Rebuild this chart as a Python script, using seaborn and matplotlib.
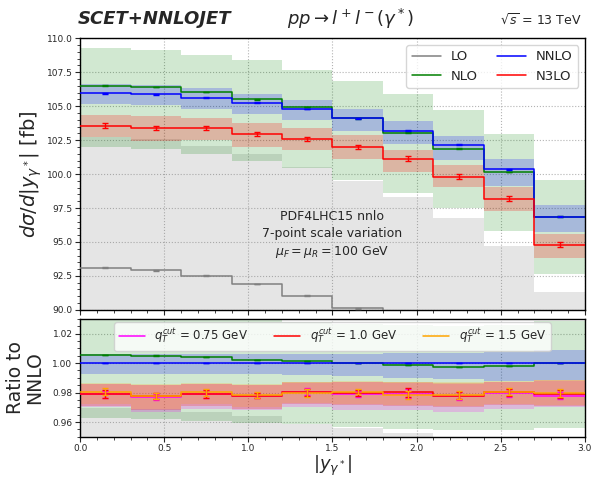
import numpy as np
import pandas as pd
import matplotlib
matplotlib.use('Agg')
import matplotlib.pyplot as plt
from matplotlib.ticker import MultipleLocator, FormatStrFormatter
import seaborn as sns

# bins in |y_gamma*|
bin_edges = [0.0, 0.3, 0.6, 0.9, 1.2, 1.5, 1.8, 2.1, 2.4, 2.7, 3.0]

# cross sections [fb], central values and scale-variation envelopes
lo_central = [93.1, 92.9, 92.5, 91.9, 91.05, 90.1, 89.1, 87.6, 85.8, 82.7]
lo_hi = [102.7, 102.6, 102.1, 101.5, 100.5, 99.5, 98.3, 96.8, 94.7, 91.3]
lo_lo = [84.7, 84.5, 84.2, 83.6, 82.9, 82.0, 81.1, 79.7, 78.1, 75.3]

nlo_central = [106.51, 106.41, 106.05, 105.5, 104.94, 104.12, 103.04, 101.87, 100.15, 96.87]
nlo_hi = [109.27, 109.15, 108.78, 108.37, 107.7, 106.84, 105.87, 104.7, 102.95, 99.6]
nlo_lo = [101.98, 101.88, 101.5, 101.0, 100.45, 99.6, 98.6, 97.49, 95.79, 92.62]

nnlo_central = [105.95, 105.87, 105.63, 105.25, 104.80, 104.10, 103.20, 102.15, 100.35, 96.85]
nnlo_hi = [106.63, 106.55, 106.31, 105.92, 105.47, 104.77, 103.88, 102.84, 101.11, 97.73]
nnlo_lo = [105.14, 105.07, 104.83, 104.45, 103.98, 103.19, 102.19, 101.04, 99.15, 95.71]

n3lo_central = [103.56, 103.41, 103.37, 102.93, 102.59, 101.98, 101.13, 99.82, 98.19, 94.81]
n3lo_hi = [104.35, 104.25, 104.15, 103.75, 103.4, 102.85, 101.75, 100.65, 99.05, 95.6]
n3lo_lo = [102.75, 102.45, 102.5, 102.0, 101.8, 101.1, 100.15, 99.05, 97.3, 93.85]
n3lo_err = [0.17, 0.15, 0.15, 0.15, 0.15, 0.15, 0.17, 0.17, 0.17, 0.17]
small_err = [0.03, 0.03, 0.03, 0.03, 0.03, 0.03, 0.03, 0.03, 0.03, 0.03]

# N3LO / NNLO for three q_T^cut values
qt_labels = [r'$q_T^{cut}$ = 0.75 GeV', r'$q_T^{cut}$ = 1.0 GeV', r'$q_T^{cut}$ = 1.5 GeV']
qt075_ratio = [0.9787, 0.9773, 0.9791, 0.9780, 0.9807, 0.9791, 0.9791, 0.9776, 0.9798, 0.9780]
qt075_hi = [0.9855, 0.9848, 0.9856, 0.9850, 0.9868, 0.9872, 0.9866, 0.9860, 0.9872, 0.9880]
qt075_lo = [0.9700, 0.9670, 0.9690, 0.9680, 0.9700, 0.9680, 0.9680, 0.9670, 0.9690, 0.9700]
qt10_ratio = [0.9791, 0.9776, 0.9791, 0.9780, 0.9802, 0.9798, 0.9802, 0.9780, 0.9802, 0.9791]
qt10_hi = [0.9858, 0.9851, 0.9858, 0.9851, 0.9869, 0.9875, 0.9869, 0.9862, 0.9875, 0.9884]
qt10_lo = [0.9712, 0.9685, 0.9710, 0.9690, 0.9720, 0.9715, 0.9710, 0.9700, 0.9715, 0.9710]
qt15_ratio = [0.9807, 0.9778, 0.9802, 0.9784, 0.9796, 0.9807, 0.9784, 0.9784, 0.9807, 0.9796]
qt15_hi = [0.9865, 0.9860, 0.9865, 0.9860, 0.9870, 0.9880, 0.9875, 0.9870, 0.9880, 0.9885]
qt15_lo = [0.9720, 0.9690, 0.9720, 0.9700, 0.9730, 0.9720, 0.9715, 0.9710, 0.9720, 0.9715]
qt_err = [0.0025, 0.0020, 0.0025, 0.0020, 0.0025, 0.0020, 0.0030, 0.0025, 0.0025, 0.0025]

edges = np.array(bin_edges)
centers = (edges[:-1] + edges[1:]) / 2


def steps(vals):
    vals = np.asarray(vals, dtype=float)
    return np.append(vals, vals[-1])


def step_line(axis, vals, color, label='_nolegend_', lw=1.1):
    df = pd.DataFrame({'x': edges, 'y': steps(vals)})
    sns.lineplot(data=df, x='x', y='y', ax=axis, color=color, lw=lw, drawstyle='steps-post',
                 estimator=None, sort=False, label=label, zorder=3)


def band(axis, lo, hi, color, alpha):
    axis.fill_between(edges, steps(lo), steps(hi), step='post', color=color, alpha=alpha, lw=0, zorder=1)


def bars(axis, vals, err, color):
    axis.errorbar(centers, vals, yerr=err, fmt='none', ecolor=color, capsize=2.5, elinewidth=1.0, zorder=4)


sns.set_style('ticks')
plt.rcParams['font.family'] = ['DejaVu Sans']
plt.rcParams['mathtext.fontset'] = 'dejavusans'

fig, (ax, rax) = plt.subplots(2, 1, figsize=(5.98, 4.79), dpi=100, sharex=True,
                              gridspec_kw={'height_ratios': [2.3, 1], 'hspace': 0.046})
fig.subplots_adjust(left=0.134, right=0.978, top=0.920, bottom=0.088)

orders = [
    ('LO', lo_central, lo_lo, lo_hi, small_err, 'gray', 0.2),
    ('NLO', nlo_central, nlo_lo, nlo_hi, small_err, 'green', 0.18),
    ('NNLO', nnlo_central, nnlo_lo, nnlo_hi, small_err, 'blue', 0.2),
    ('N3LO', n3lo_central, n3lo_lo, n3lo_hi, n3lo_err, 'red', 0.22),
]

# upper panel
for name, c, lo, hi, err, col, a in orders:
    band(ax, lo, hi, col, a)
for name, c, lo, hi, err, col, a in orders:
    step_line(ax, c, col, label=name)
    bars(ax, c, err, col)

ax.set_ylim(90, 110)
ax.set_xlim(0, 3)
ax.yaxis.set_major_locator(MultipleLocator(2.5))
ax.yaxis.set_minor_locator(MultipleLocator(0.5))
ax.yaxis.set_major_formatter(FormatStrFormatter('%.1f'))
ax.set_ylabel(r'$d\sigma/d|y_{\gamma^*}|$ [fb]', fontsize=14)
ax.set_xlabel('')
ax.text(1.5, 95.5, 'PDF4LHC15 nnlo\n7-point scale variation\n$\\mu_F = \\mu_R = 100$ GeV',
        ha='center', va='center', fontsize=9, linespacing=1.35)
ax.legend(loc='upper right', ncol=2, fontsize=9.5, handlelength=2.2, columnspacing=1.4,
          framealpha=0.8)

# lower panel: ratio to NNLO
nnlo = np.array(nnlo_central)
for name, c, lo, hi, err, col, a in orders[:3]:
    band(rax, np.array(lo) / nnlo, np.array(hi) / nnlo, col, a)
qt_sets = [
    (qt075_ratio, qt075_lo, qt075_hi, 'magenta'),
    (qt10_ratio, qt10_lo, qt10_hi, 'red'),
    (qt15_ratio, qt15_lo, qt15_hi, 'orange'),
]
for r, lo, hi, col in qt_sets:
    band(rax, lo, hi, col, 0.2)
for name, c, lo, hi, err, col, a in orders[:3]:
    step_line(rax, np.array(c) / nnlo, col)
    bars(rax, np.array(c) / nnlo, np.array(err) / nnlo / 10, col)
for (r, lo, hi, col), lab in zip(qt_sets, qt_labels):
    step_line(rax, r, col, label=lab)
    bars(rax, r, qt_err, col)

rax.set_ylim(0.95, 1.03)
rax.yaxis.set_major_locator(MultipleLocator(0.02))
rax.yaxis.set_minor_locator(MultipleLocator(0.005))
rax.yaxis.set_major_formatter(FormatStrFormatter('%.2f'))
rax.set_ylabel('Ratio to\nNNLO', fontsize=13.5, linespacing=1.0)
rax.set_xlabel(r'$|y_{\gamma^*}|$', fontsize=13, labelpad=0.5)
rax.legend(loc='upper center', ncol=3, fontsize=8.5, handlelength=2.2, columnspacing=2.2,
           framealpha=0.8, borderaxespad=0.3)

for a_ in (ax, rax):
    a_.xaxis.set_major_locator(MultipleLocator(0.5))
    a_.xaxis.set_minor_locator(MultipleLocator(0.1))
    a_.tick_params(which='major', length=3.5, width=0.8, labelsize=6.5, pad=2)
    a_.tick_params(which='minor', length=2, width=0.6)
    a_.grid(True, which='major', ls=':', color='0.7', lw=0.8)
    for s in a_.spines.values():
        s.set_linewidth(1.0)
        s.set_color('black')
rax.xaxis.set_major_formatter(FormatStrFormatter('%.1f'))
ax.yaxis.set_label_coords(-0.072, 0.5)
rax.yaxis.set_label_coords(-0.072, 0.5)

fig.text(0.130, 0.961, 'SCET+NNLOJET', fontsize=13, fontweight='bold', fontstyle='italic',
         ha='left', va='center')
fig.text(0.587, 0.961, r'$pp \rightarrow l^+l^-(\gamma^*)$', fontsize=13, ha='center', va='center')
fig.text(0.973, 0.958, r'$\sqrt{s}$ = 13 TeV', fontsize=9, ha='right', va='center')

fig.savefig('out.png', dpi=100)
